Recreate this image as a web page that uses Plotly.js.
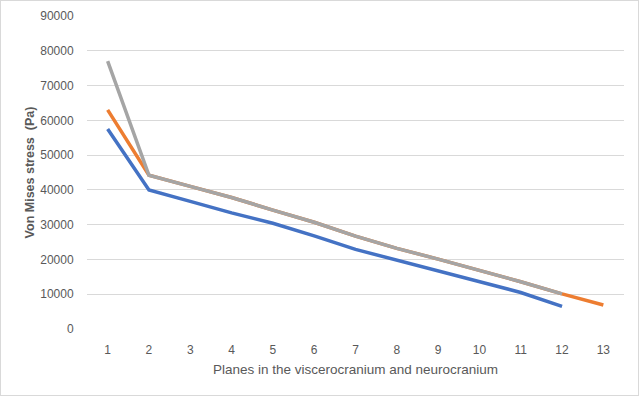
<!DOCTYPE html>
<html>
<head>
<meta charset="utf-8">
<script src="https://cdn.plot.ly/plotly-3.0.1.min.js"></script>
<style>
html,body{margin:0;padding:0;background:#fff;}
#chart{width:639px;height:396px;box-sizing:border-box;border:1px solid #d9d9d9;}
</style>
</head>
<body>
<div id="chart"></div>
<script>
const planes = ['1','2','3','4','5','6','7','8','9','10','11','12','13'];
const seriesBlue = [57500, 40000, 36700, 33400, 30400, 26800, 22900, 19800, 16700, 13800, 10500, 6500];
const seriesOrange = [63000, 44200, 41000, 37800, 34200, 30700, 26700, 23200, 20100, 16900, 13600, 10100, 6900];
const seriesGray = [77000, 44200, 41000, 37800, 34200, 30700, 26700, 23200, 20100, 16900, 13600, 10100];
const yTicks = [0, 10000, 20000, 30000, 40000, 50000, 60000, 70000, 80000, 90000];

const textColor = '#595959';
const traces = [
  {x: planes.slice(0, seriesBlue.length), y: seriesBlue, type: 'scatter', mode: 'lines',
   line: {color: '#4472C4', width: 3.5}, hoverinfo: 'skip'},
  {x: planes.slice(0, seriesOrange.length), y: seriesOrange, type: 'scatter', mode: 'lines',
   line: {color: '#ED7D31', width: 3.5}, hoverinfo: 'skip'},
  {x: planes.slice(0, seriesGray.length), y: seriesGray, type: 'scatter', mode: 'lines',
   line: {color: '#A5A5A5', width: 3.5}, hoverinfo: 'skip'}
];

const layout = {
  width: 637, height: 394,
  margin: {l: 86, r: 14, t: 15, b: 66},
  paper_bgcolor: '#ffffff', plot_bgcolor: '#ffffff',
  showlegend: false,
  font: {family: 'Liberation Sans, Arial, sans-serif', size: 12, color: textColor},
  xaxis: {
    type: 'category', categoryorder: 'array', categoryarray: planes,
    range: [-0.5, 12.5], showgrid: false, zeroline: false,
    showline: false, ticks: 'outside', ticklen: 10, tickcolor: 'rgba(0,0,0,0)',
    tickfont: {size: 12, color: textColor},
    title: {text: 'Planes in the viscerocranium and neurocranium', font: {size: 13.5, color: textColor}, standoff: 8}
  },
  yaxis: {
    range: [0, 90000], tickvals: yTicks, ticktext: yTicks.map(String),
    showgrid: true, gridcolor: '#d9d9d9', gridwidth: 1, zeroline: false,
    showline: false, ticks: 'outside', ticklen: 10, tickcolor: 'rgba(0,0,0,0)',
    tickfont: {size: 12, color: textColor},
    title: {text: '<b>Von Mises stress  (Pa)</b>', font: {size: 12.5, color: textColor}, standoff: 2}
  }
};

Plotly.newPlot('chart', traces, layout, {displayModeBar: false, staticPlot: true});
</script>
</body>
</html>
